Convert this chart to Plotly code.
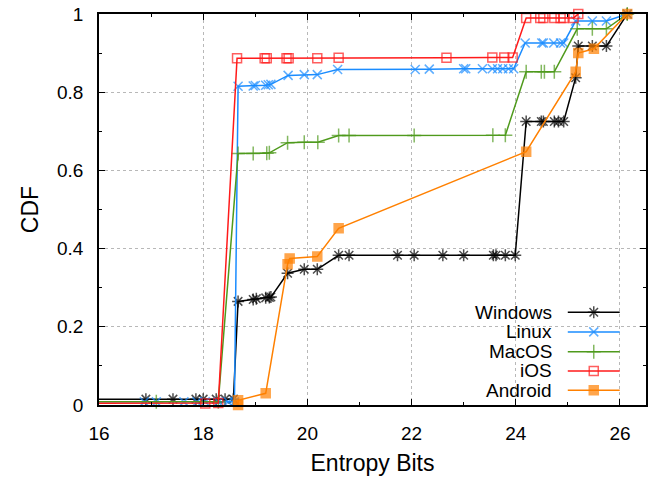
import plotly.graph_objects as go

# ---------------- data ----------------
win_x = [15.0, 16.9, 17.42, 17.86, 18.0, 18.25, 18.42, 18.58,
         18.67, 18.96, 19.02, 19.2, 19.27, 19.3,
         19.62, 19.94, 20.19,
         20.6, 20.8, 21.73, 22.05, 22.6, 23.0, 23.57, 23.62, 23.8, 23.99,
         24.2, 24.49, 24.53, 24.74, 24.82, 24.92,
         25.15, 25.2, 25.47, 25.74, 26.14]
win_y = [0.015, 0.015, 0.015, 0.015, 0.015, 0.015, 0.015, 0.015,
         0.265, 0.27, 0.272, 0.274, 0.275, 0.276,
         0.337, 0.347, 0.347,
         0.383, 0.383, 0.383, 0.383, 0.383, 0.383, 0.383, 0.383, 0.383, 0.383,
         0.725, 0.725, 0.725, 0.725, 0.725, 0.725,
         0.837, 0.918, 0.918, 0.918, 1.0]

lin_x = [15.0, 16.87, 17.1, 17.63, 17.88, 18.04, 18.29, 18.48, 18.6,
         18.67, 18.96, 19.0, 19.2, 19.25, 19.3,
         19.63, 19.94, 20.19,
         20.58, 22.07, 22.34, 23.0, 23.04, 23.36, 23.55, 23.65, 23.75, 23.86, 23.96,
         24.18, 24.5, 24.53, 24.73, 24.86, 24.92,
         25.15, 25.47, 25.74, 26.14]
lin_y = [0.008, 0.008, 0.008, 0.008, 0.008, 0.008, 0.008, 0.008, 0.008,
         0.815, 0.816, 0.817, 0.818, 0.819, 0.82,
         0.843, 0.845, 0.845,
         0.858, 0.858, 0.859, 0.86, 0.86, 0.86, 0.86, 0.86, 0.86, 0.86, 0.86,
         0.926, 0.926, 0.926, 0.926, 0.926, 0.926,
         0.982, 0.982, 0.982, 1.0]

mac_x = [15.0, 17.1, 18.29,
         18.67, 18.96, 19.22, 19.27,
         19.62, 19.94, 20.2,
         20.6, 20.8, 22.05, 23.56, 23.8,
         24.2, 24.49, 24.55, 24.74,
         25.18, 25.47, 25.74, 26.14]
mac_y = [0.008, 0.008, 0.008,
         0.643, 0.643, 0.644, 0.645,
         0.671, 0.672, 0.672,
         0.689, 0.689, 0.689, 0.69, 0.69,
         0.852, 0.852, 0.852, 0.852,
         0.962, 0.962, 0.962, 1.0]

ios_x = [15.0, 18.04, 18.29,
         18.65, 19.18, 19.22, 19.6, 19.64, 20.19, 20.6, 22.67, 23.55, 23.78, 23.94,
         24.2, 24.47, 24.53, 24.74, 24.86, 24.92, 25.11, 25.2]
ios_y = [0.004, 0.004, 0.005,
         0.887, 0.887, 0.887, 0.887, 0.887, 0.887, 0.888, 0.888, 0.889, 0.889, 0.889,
         0.99, 0.99, 0.99, 0.99, 0.99, 0.99, 0.99, 1.0]

and_x = [18.67, 18.67, 19.2, 19.62, 19.66, 20.19, 20.6, 24.2, 25.15, 25.2, 25.5, 26.14]
and_y = [0.0, 0.012, 0.03, 0.36, 0.375, 0.38, 0.452, 0.648, 0.852, 0.9, 0.911, 1.0]

series_names = ["Windows", "Linux", "MacOS", "iOS", "Android"]
x_ticks = [16, 18, 20, 22, 24, 26]
y_ticks = [0, 0.2, 0.4, 0.6, 0.8, 1]
y_tick_text = ["0", "0.2", "0.4", "0.6", "0.8", "1"]

# ---------------- styles ----------------
FONT = "Liberation Sans, Arial, Helvetica, sans-serif"
styles = {
    "Windows": dict(color="#000000", symbol="asterisk-open", size=10, lw=1.5),
    "Linux":   dict(color="#1a8cff", symbol="x-thin-open", size=9, lw=1.5),
    "MacOS":   dict(color="#4f9a1c", symbol="cross-thin-open", size=10, lw=1.5),
    "iOS":     dict(color="#ff1a1a", symbol="square-open", size=9, lw=1.5),
    "Android": dict(color="#ff8000", symbol="square", size=9, lw=1.5),
}
data = {
    "Windows": (win_x, win_y),
    "Linux": (lin_x, lin_y),
    "MacOS": (mac_x, mac_y),
    "iOS": (ios_x, ios_y),
    "Android": (and_x, and_y),
}

fig = go.Figure()
for name in series_names:
    xs, ys = data[name]
    st = styles[name]
    sizes = [0 if x < 16 else st["size"] for x in xs]
    fig.add_trace(go.Scatter(
        x=xs, y=ys, mode="lines+markers", name=name, showlegend=False,
        line=dict(color=st["color"], width=st["lw"]),
        marker=dict(symbol=st["symbol"], size=sizes, color=st["color"],
                    line=dict(color=st["color"], width=1.5)),
        cliponaxis=False,
    ))

# ---------------- legend (text left, sample right, like gnuplot) ----------------
leg_text_x = 0.8315
leg_x0, leg_x1 = 0.857, 0.952
leg_rows = [0.237, 0.187, 0.136, 0.087, 0.038]
for name, ly in zip(series_names, leg_rows):
    st = styles[name]
    fig.add_trace(go.Scatter(
        x=[leg_x0, (leg_x0 + leg_x1) / 2, leg_x1], y=[ly, ly, ly],
        xaxis="x2", yaxis="y2", mode="lines+markers", showlegend=False,
        hoverinfo="skip",
        line=dict(color=st["color"], width=st["lw"]),
        marker=dict(symbol=st["symbol"], size=[0, st["size"], 0], color=st["color"],
                    line=dict(color=st["color"], width=1.5)),
        cliponaxis=False,
    ))
    fig.add_annotation(x=leg_text_x, y=ly, xref="paper", yref="paper",
                       text=name, showarrow=False, xanchor="right", yanchor="middle",
                       font=dict(family=FONT, size=19, color="black"))

axis_common = dict(
    showline=True, linecolor="black", linewidth=1.5, mirror="ticks",
    ticks="inside", ticklen=6, tickwidth=1, tickcolor="black",
    showgrid=True, gridcolor="#b8b8b8", griddash="dot", gridwidth=1,
    zeroline=False, tickfont=dict(family=FONT, size=19, color="black"),
    ticklabelstandoff=10,
)

fig.update_layout(
    width=652, height=478,
    margin=dict(l=99, r=4, t=13, b=73),
    paper_bgcolor="white", plot_bgcolor="white",
    font=dict(family=FONT, size=19, color="black"),
    xaxis=dict(range=[16, 26.5], tickvals=x_ticks,
               minor=dict(dtick=1, tick0=16, ticks="inside", ticklen=3, showgrid=False),
               title=dict(text="Entropy Bits", font=dict(family=FONT, size=23), standoff=12),
               **axis_common),
    yaxis=dict(range=[0, 1], tickvals=y_ticks, ticktext=y_tick_text,
               minor=dict(dtick=0.1, tick0=0, ticks="inside", ticklen=3, showgrid=False),
               title=dict(text="CDF", font=dict(family=FONT, size=23), standoff=12),
               **axis_common),
    xaxis2=dict(overlaying="x", range=[0, 1], visible=False),
    yaxis2=dict(overlaying="y", range=[0, 1], visible=False),
)

fig.write_html("out.html")
